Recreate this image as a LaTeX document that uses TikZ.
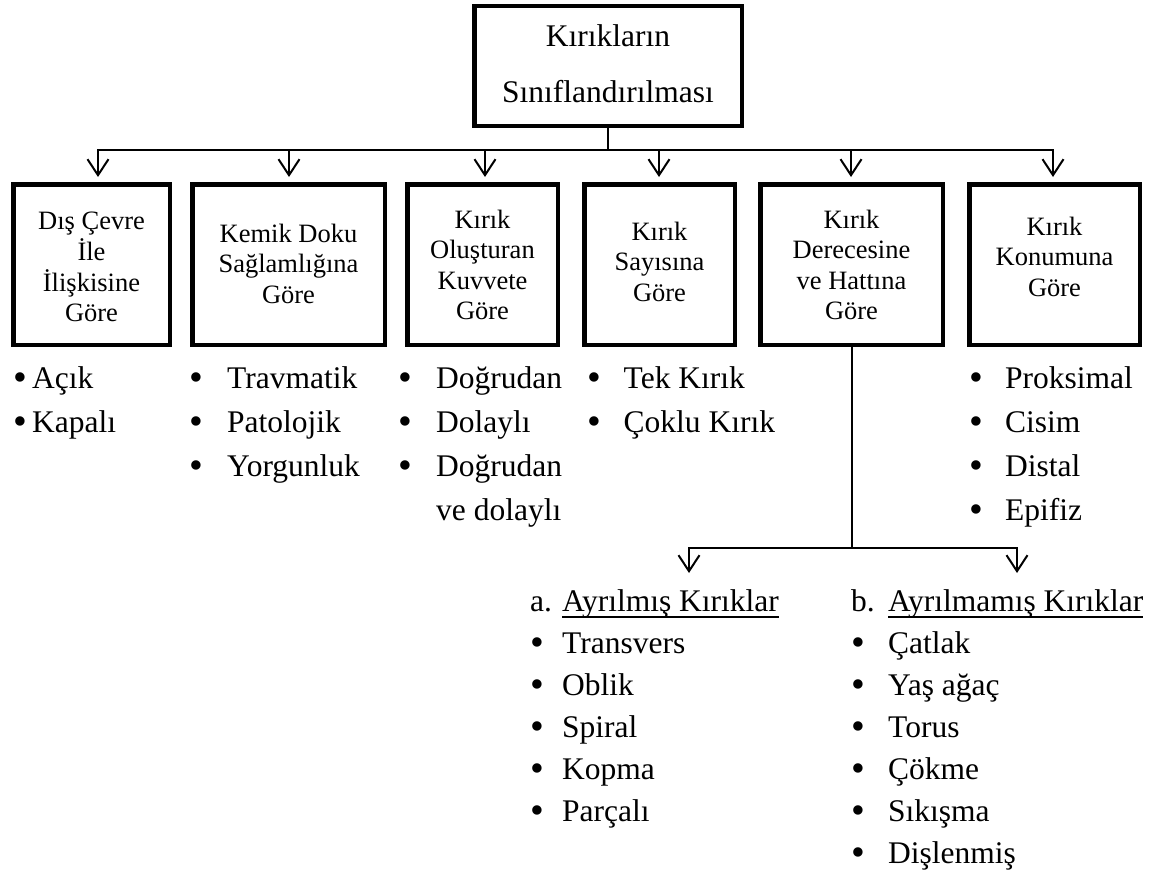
\documentclass[tikz,border=0pt]{standalone}
\usepackage{fontspec}
\setmainfont{Liberation Serif}
\usetikzlibrary{arrows.meta}

% underline drawn just below the baseline
\newcommand\ulword[1]{\setbox0\hbox{#1}\rlap{\rule[-7pt]{\wd0}{1.6pt}}\box0}
% slightly enlarged list bullet, kept at the same height
\newcommand\bul{\scalebox{1.25}{\raisebox{-0.064em}{•}}}
\newcommand\boxfont{\fontsize{26.5pt}{30.5pt}\selectfont}
\newcommand\listfont{\fontsize{31.5pt}{44pt}\selectfont}
\newcommand\subfont{\fontsize{31.5pt}{42pt}\selectfont}
\newcommand\titlefont{\fontsize{31.5pt}{55pt}\selectfont}
% centred lines, baseline on the first line
\newcommand\ctext[1]{\begin{tabular}[t]{@{}c@{}}#1\end{tabular}}
% bullet list: marker column of given width, then the item text
\newcommand\blist[2]{\begin{tabular}[t]{@{}p{#1}@{}l@{}}#2\end{tabular}}

\begin{document}
\begin{tikzpicture}[x=1pt,y=-1pt,
  frame/.style={draw,line width=4.5pt,inner sep=0pt,minimum height=160.5pt},
  link/.style={line width=2pt},
  arr/.style={line width=2pt,-{Straight Barb[length=16pt,width=21pt]}},
  label/.style={inner sep=0pt,anchor=base},
  items/.style={inner sep=0pt,anchor=base west,font=\listfont}]
\useasboundingbox[fill=white] (0,0) rectangle (1159,875);

% title box
\node[frame,minimum width=267.5pt,minimum height=119.5pt] (top) at (608,66) {};
\node[label,font=\titlefont] (toptext) at (608,47) {\ctext{Kırıkların\\Sınıflandırılması}};

% category boxes
\node[frame,minimum width=156.5pt] (b1) at (91.5,264.5) {};
\node[frame,minimum width=192.5pt] (b2) at (288.5,264.5) {};
\node[frame,minimum width=150.5pt] (b3) at (482.5,264.5) {};
\node[frame,minimum width=150.5pt] (b4) at (659.5,264.5) {};
\node[frame,minimum width=182.5pt] (b5) at (851.5,264.5) {};
\node[frame,minimum width=170.5pt] (b6) at (1054.5,264.5) {};

\node[label,font=\boxfont] (t1) at (91.5,229) {\ctext{Dış Çevre\\İle\\İlişkisine\\Göre}};
\node[label,font=\boxfont] (t2) at (288.5,242) {\ctext{Kemik Doku\\Sağlamlığına\\Göre}};
\node[label,font=\boxfont] (t3) at (482.5,228) {\ctext{Kırık\\Oluşturan\\Kuvvete\\Göre}};
\node[label,font=\boxfont] (t4) at (659.5,240) {\ctext{Kırık\\Sayısına\\Göre}};
\node[label,font=\boxfont] (t5) at (851.5,228) {\ctext{Kırık\\Derecesine\\ve Hattına\\Göre}};
\node[label,font=\boxfont] (t6) at (1054.5,235) {\ctext{Kırık\\Konumuna\\Göre}};

% distribution bus
\coordinate (hub) at (608,150);
\coordinate (a1) at (98,177);
\coordinate (a2) at (289,177);
\coordinate (a3) at (485,177);
\coordinate (a4) at (659,177);
\coordinate (a5) at (851,177);
\coordinate (a6) at (1053,177);
\draw[link] (top.south) -- (hub);
\draw[arr] (hub) -| (a1);
\draw[arr] (hub) -| (a6);
\draw[arr] (hub -| a2) -- (a2);
\draw[arr] (hub -| a3) -- (a3);
\draw[arr] (hub -| a4) -- (a4);
\draw[arr] (hub -| a5) -- (a5);

% sub-branch of the fracture-line box
\coordinate (hub2) at (851.5,548);
\coordinate (aa) at (689,573);
\coordinate (ab) at (1017,573);
\draw[link] (b5.south) -- (hub2);
\draw[arr] (hub2) -| (aa);
\draw[arr] (hub2) -| (ab);

% item lists
\node[items] (l1) at (13.5,388) {\blist{18.5pt}{\bul&Açık\\\bul&Kapalı}};
\node[items] (l2) at (189.5,388) {\blist{37.5pt}{\bul&Travmatik\\\bul&Patolojik\\\bul&Yorgunluk}};
\node[items] (l3) at (398.5,388) {\blist{37.5pt}{\bul&Doğrudan\\\bul&Dolaylı\\\bul&Doğrudan\\&ve dolaylı}};
\node[items] (l4) at (587.5,388) {\blist{36pt}{\bul&Tek Kırık\\\bul&Çoklu Kırık}};
\node[items] (l6) at (969.5,388) {\blist{35.5pt}{\bul&Proksimal\\\bul&Cisim\\\bul&Distal\\\bul&Epifiz}};
\node[items,font=\subfont] (la) at (530,611) {\blist{32pt}{a.&\ulword{Ayrılmış Kırıklar}\\\bul&Transvers\\\bul&Oblik\\\bul&Spiral\\\bul&Kopma\\\bul&Parçalı}};
\node[items,font=\subfont] (lb) at (851,611) {\blist{37pt}{b.&\ulword{Ayrılmamış Kırıklar}\\\bul&Çatlak\\\bul&Yaş ağaç\\\bul&Torus\\\bul&Çökme\\\bul&Sıkışma\\\bul&Dişlenmiş}};
\end{tikzpicture}
\end{document}
